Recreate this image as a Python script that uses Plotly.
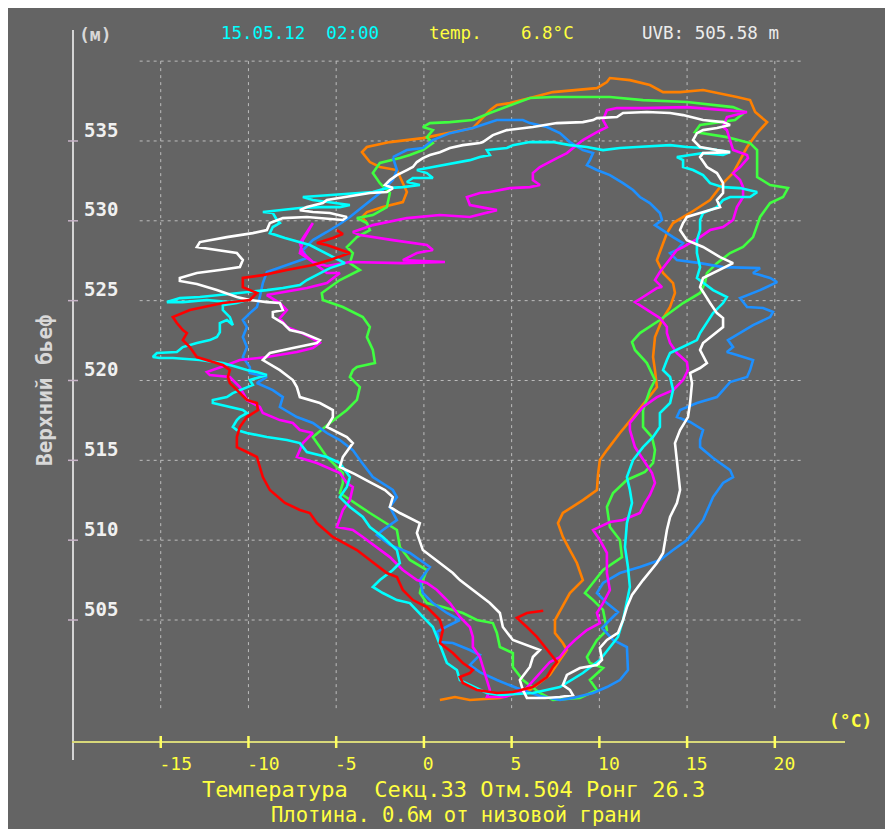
import plotly.graph_objects as go

# ---------------- data (temperature °C, upstream level m) ----------------
orange_T = [0.91,1.77,2.62,3.59,4.33,6.04,7.18,7.75,8.15,7.92,7.47,7.47,7.87,8.32,9.06,8.72,8.32,7.92,7.64,7.92,9.06,9.86,9.92,10.03,10.43,11.17,11.92,12.71,13.28,13.17,13.06,13.17,13.57,14.03,14.31,14.20,13.63,13.28,13.85,14.20,15.17,16.31,17.05,17.62,18.02,18.42,18.99,19.56,18.88,18.59,17.84,15.91,14.60,13.63,12.88,11.74,10.60,10.43,9.86,7.35,6.04,4.90,4.16,3.76,2.79,0.91,-0.06,-1.94,-3.25,-3.53,-3.08,-2.51,-1.54,-0.97,-1.20,-2.34,-3.25,-3.53,-3.25]
orange_H = [499.99,500.18,499.99,500.05,500.12,500.62,501.56,502.50,503.12,503.56,504.19,505.00,505.81,506.69,507.50,508.57,509.38,510.20,511.07,511.70,512.51,513.14,514.08,515.02,515.64,516.71,517.71,518.78,519.59,520.65,521.47,522.72,523.79,524.60,525.48,526.10,526.73,527.54,529.23,529.86,530.49,531.30,532.36,532.99,533.80,534.62,535.49,536.18,536.81,537.56,537.75,538.19,538.06,538.06,538.50,538.81,538.94,538.69,538.31,538.06,537.69,537.37,537.25,536.93,535.81,535.37,535.18,534.93,534.62,534.30,533.68,533.37,533.18,531.80,531.17,530.86,530.55,530.24,529.86]

green_T = [2.79,3.76,6.04,7.35,10.60,12.49,14.99,17.62,18.30,17.73,15.74,15.45,17.27,18.59,18.99,18.99,19.73,20.75,20.47,19.73,19.16,18.76,18.19,17.45,16.70,16.13,16.02,15.74,14.77,13.45,12.31,11.86,12.03,12.71,13.17,12.88,12.49,12.49,13.00,13.17,13.06,12.60,11.57,10.78,10.43,10.60,11.17,11.29,10.21,9.18,9.64,10.21,10.43,9.86,9.29,9.46,10.21,9.46,9.86,8.89,7.35,6.61,5.64,5.07,5.07,4.33,4.16,3.93,3.02,2.22,1.08,0.17,-0.23,-0.06,0.17,-0.80,-1.37,-1.54,-3.08,-4.22,-4.79,-4.62,-4.62,-5.53,-6.33,-5.36,-4.39,-3.82,-3.65,-4.22,-4.05,-3.82,-2.79,-2.91,-3.25,-3.08,-3.48,-4.62,-5.76,-5.82,-4.79,-3.65,-4.22,-4.05,-4.39,-3.82,-3.08,-3.25,-3.82,-2.91,-2.11,-1.94,-2.51,-2.91,-2.51,-1.37,-0.80,-0.06,0.51,0.17,0.51,-0.06,0.34,1.48,2.79]
green_H = [536.31,536.75,537.69,537.75,537.75,537.56,537.44,537.12,536.81,536.31,536.00,535.56,535.24,534.87,534.43,532.74,532.24,532.05,531.49,531.11,530.24,528.98,528.36,527.98,527.35,526.73,526.10,525.48,524.85,523.79,522.97,522.41,521.91,521.09,520.03,519.40,518.15,517.09,516.46,515.64,514.83,514.27,513.77,512.95,512.08,510.82,510.01,508.94,508.13,506.69,506.25,505.63,504.37,503.75,502.68,502.31,501.99,501.24,500.62,500.12,499.99,500.43,501.24,502.06,502.93,503.31,504.19,504.81,505.00,505.44,505.81,506.06,506.69,507.50,508.13,508.76,509.57,510.64,511.70,512.51,512.95,513.58,514.20,515.21,516.46,517.34,518.15,518.78,519.59,520.22,520.65,520.84,521.09,521.91,522.72,523.35,523.97,524.60,525.04,525.48,526.29,526.92,527.35,527.98,528.36,528.98,529.42,529.86,530.17,530.36,530.86,531.74,532.36,532.99,533.62,533.93,534.12,534.43,534.87,535.24,535.68,535.87,536.12,536.18,536.31]

blue_T = [-1.77,-0.97,-0.06,0.51,1.48,2.79,4.16,5.64,6.04,7.01,7.75,8.32,9.06,9.64,9.46,9.29,9.86,10.60,11.35,11.92,12.31,12.88,13.45,13.57,13.17,13.57,14.20,14.77,14.42,14.03,14.42,15.74,17.05,19.16,18.76,19.73,20.13,19.16,18.02,18.42,19.33,19.90,19.73,18.76,17.84,17.33,17.62,17.27,17.84,18.76,18.59,18.42,17.45,17.05,16.70,15.56,14.60,14.42,15.17,15.91,15.74,15.74,16.48,17.45,17.62,17.05,16.48,15.91,14.99,14.20,13.45,12.31,11.17,10.21,9.86,10.43,11.06,10.60,10.15,10.78,11.57,11.63,11.17,10.43,9.64,8.49,7.75,6.61,5.30,4.16,3.19,2.62,3.19,2.62,1.65,0.91,0.74,1.48,2.05,1.31,0.51,-0.06,-0.23,0.34,-0.80,-1.94,-2.68,-2.34,-1.54,-1.94,-1.54,-1.77,-2.91,-3.65,-4.05,-4.79,-5.53,-6.33,-7.24,-8.21,-8.04,-8.61,-9.52,-8.95,-9.92,-9.92,-10.32,-10.09,-10.32,-10.09,-10.32,-9.92,-9.52,-9.35,-9.18,-8.95,-7.81,-6.67,-6.90,-6.33,-5.53,-4.79,-4.22,-3.36,-2.51,-1.77,-1.54,-1.77]
blue_H = [533.99,534.43,534.56,535.06,535.49,535.81,536.31,536.31,536.12,535.87,535.49,534.93,534.43,534.24,533.80,533.49,533.18,532.86,532.36,531.93,531.49,531.11,530.49,530.05,529.73,529.42,528.98,528.61,528.17,527.98,527.54,527.35,527.10,527.04,526.73,526.42,526.16,525.66,525.16,524.60,524.54,524.29,523.97,523.47,522.85,522.53,522.09,521.78,521.59,521.28,520.65,520.22,519.90,519.40,518.96,518.59,518.15,517.71,517.40,516.90,516.27,515.83,515.14,514.39,513.95,513.58,512.70,511.26,510.01,509.38,508.76,508.32,507.94,507.32,506.69,506.06,505.50,505.00,504.50,503.75,503.31,501.87,501.24,500.80,500.43,500.12,499.99,500.24,500.74,501.24,501.74,502.18,502.81,503.12,503.56,503.62,504.25,504.69,505.00,505.44,506.06,506.69,507.50,508.32,509.20,509.70,510.32,510.64,511.26,512.08,512.70,513.14,513.95,515.02,515.64,516.27,516.71,517.34,517.71,518.34,518.96,519.40,519.84,520.22,520.47,520.84,521.47,522.09,522.72,523.35,523.79,524.22,524.60,525.23,526.10,526.79,527.23,527.67,528.17,528.79,529.30,529.80,530.24,530.99,531.74,532.55,533.18,533.99]

magenta_T = [18.42,17.05,15.91,14.99,12.49,11.00,10.43,10.21,10.43,9.86,9.06,8.72,8.15,7.58,6.61,6.21,6.21,6.61,6.04,4.90,3.76,3.19,2.45,2.62,4.16,2.62,0.91,-0.97,-2.91,-4.05,-3.65,-1.77,0.17,0.51,-0.40,-1.20,1.20,-1.20,-4.22,-5.53,-6.33,-6.90,-7.07,-6.33,-6.90,-7.07,-6.33,-5.53,-4.79,-5.53,-6.67,-8.95,-8.21,-7.81,-8.21,-7.81,-7.07,-6.50,-5.93,-6.33,-7.24,-8.95,-10.49,-11.23,-12.37,-12.20,-11.06,-10.49,-10.09,-9.35,-9.18,-8.21,-7.47,-7.07,-6.33,-6.90,-7.24,-6.10,-4.79,-4.39,-4.05,-4.22,-4.62,-4.96,-4.05,-3.48,-2.68,-1.94,-1.20,-0.40,0.17,0.74,1.48,2.05,2.62,2.79,2.79,3.19,3.36,3.59,3.76,3.59,4.62,5.76,6.61,7.18,7.75,8.15,8.61,9.29,10.03,9.86,10.21,10.60,10.43,10.43,10.03,9.64,10.60,11.35,12.31,12.60,12.88,13.17,13.00,12.49,12.03,11.74,11.74,12.49,13.28,14.20,14.77,15.05,14.99,14.42,14.03,13.85,13.85,13.45,12.49,12.03,12.49,13.28,13.57,13.17,13.45,13.85,14.42,14.77,15.74,16.31,17.05,17.62,17.84,18.19,18.19,18.02,17.62,18.02,18.47,18.42,17.62,17.27,17.05,17.27,18.42]
magenta_H = [536.81,536.93,537.06,537.12,537.06,537.06,536.93,536.31,535.87,535.56,535.06,534.74,534.24,533.93,533.37,532.99,532.55,532.24,532.11,532.05,531.80,531.74,531.49,530.99,530.67,530.24,530.36,530.17,529.73,529.30,529.11,528.79,528.48,528.17,527.98,527.54,527.42,527.35,527.42,527.17,527.42,527.98,528.61,529.86,528.79,527.98,527.42,526.73,526.73,526.10,525.79,525.35,524.85,524.41,523.91,523.35,523.03,522.72,522.35,522.03,521.78,521.47,521.28,520.97,520.53,520.34,520.22,519.59,518.78,518.34,517.96,517.52,517.34,516.90,516.71,516.08,515.21,514.83,514.20,513.58,513.33,512.51,511.89,510.82,510.64,510.20,509.57,508.94,508.13,507.50,507.32,506.88,506.06,505.19,504.56,503.94,503.31,502.68,502.06,501.24,500.62,500.18,500.18,500.62,501.68,502.37,502.68,503.25,503.75,504.37,504.81,505.44,506.06,506.88,507.94,509.20,510.01,510.64,511.14,511.26,511.70,512.33,512.83,513.58,514.20,515.02,515.83,516.90,517.34,518.34,518.96,519.40,520.03,520.65,521.16,521.72,522.35,522.97,523.35,523.91,524.60,524.91,525.23,525.79,525.85,526.29,526.79,527.35,528.17,528.36,528.98,529.42,529.61,530.05,530.86,531.49,532.11,532.55,532.99,533.37,533.93,534.12,534.43,535.68,535.87,536.50,536.81]

cyan_T = [2.62,3.19,3.76,3.59,4.73,5.07,6.04,7.35,8.32,9.29,10.21,11.17,12.14,14.03,14.99,15.91,16.70,17.45,17.05,15.91,15.17,14.42,14.77,14.77,15.34,15.91,16.31,17.05,18.02,18.99,18.59,17.45,17.05,16.70,15.91,15.74,15.74,15.56,15.56,15.74,15.56,16.48,17.27,17.05,16.48,16.13,15.74,15.56,14.77,14.03,13.85,13.63,14.03,14.20,14.03,13.45,13.45,13.06,12.49,11.92,11.57,11.74,11.86,11.57,11.46,11.63,11.74,11.57,11.35,11.06,10.60,10.03,9.06,8.15,7.75,6.21,4.33,3.59,2.05,1.88,1.31,0.74,0.51,-0.06,-0.80,-1.54,-2.34,-2.91,-2.51,-1.77,-1.37,-1.54,-2.34,-3.08,-3.48,-4.22,-4.79,-4.39,-4.22,-4.79,-5.53,-6.67,-7.07,-7.81,-8.95,-10.09,-10.66,-10.89,-10.66,-10.49,-10.09,-10.32,-11.06,-12.03,-12.03,-11.23,-10.89,-10.49,-10.09,-9.75,-9.92,-9.35,-8.95,-9.52,-10.09,-10.66,-11.46,-12.77,-14.31,-15.05,-15.45,-15.22,-14.08,-13.74,-12.94,-12.20,-11.80,-11.63,-11.63,-11.23,-10.89,-11.06,-11.46,-11.46,-10.66,-10.09,-11.06,-12.37,-13.74,-14.65,-13.91,-12.77,-11.63,-10.66,-9.92,-8.95,-8.04,-7.07,-6.67,-5.36,-4.50,-6.50,-7.92,-8.78,-8.61,-8.21,-8.38,-8.61,-9.18,-7.07,-5.93,-4.79,-4.22,-5.53,-6.33,-6.90,-5.53,-4.05,-2.91,-2.11,-1.20,-0.23,-0.97,-0.63,0.51,0.17,-0.40,0.51,1.65,2.62]
cyan_H = [533.80,533.99,534.12,534.43,534.56,534.74,534.93,534.93,534.74,534.62,534.43,534.56,534.62,534.74,534.62,534.56,534.43,534.30,534.12,534.24,534.12,533.99,533.80,533.37,533.18,532.86,532.36,532.11,532.05,531.80,531.49,531.49,531.30,530.86,530.49,530.05,529.42,528.79,527.98,527.10,526.42,525.66,525.23,524.85,524.22,523.60,522.97,522.53,522.09,521.72,521.28,520.65,520.22,519.40,518.59,517.96,517.09,516.46,515.83,515.02,513.95,513.14,512.33,511.07,509.57,508.32,507.07,506.06,505.00,503.94,503.31,502.50,501.68,501.06,500.80,500.43,500.30,500.43,501.24,501.87,502.31,503.94,504.56,505.19,506.06,506.25,506.69,507.07,507.50,508.13,508.57,509.38,510.20,510.82,511.45,512.08,512.70,513.33,513.95,514.83,515.21,515.52,516.08,516.27,516.46,516.71,516.90,517.09,517.52,517.71,517.96,518.15,518.34,518.59,518.78,518.96,519.21,519.40,519.59,519.72,520.03,520.22,520.34,520.53,520.65,520.84,521.09,521.28,521.41,521.41,521.47,521.72,521.78,522.09,522.35,522.53,522.72,523.03,523.60,523.79,523.47,523.97,524.41,524.72,524.85,525.04,524.91,525.04,524.91,524.91,525.16,525.23,525.35,525.48,525.54,525.66,525.79,525.98,526.29,527.04,527.35,528.48,528.92,529.23,529.61,529.86,530.05,530.49,530.55,530.80,530.86,530.86,530.99,531.17,531.30,531.49,531.61,531.74,531.80,532.05,532.11,532.24,532.43,532.68,532.68,532.99,533.18,533.37,533.62,533.80]

white_T = [3.19,2.22,1.48,0.91,0.34,-0.06,-0.40,-0.63,-0.97,-1.54,-1.94,-2.22,-1.77,-2.11,-3.08,-4.39,-5.53,-5.76,-6.67,-7.07,-6.33,-5.36,-4.39,-4.62,-5.76,-6.67,-8.04,-8.78,-8.95,-9.75,-11.23,-12.77,-12.94,-11.80,-10.66,-10.32,-10.49,-11.63,-12.94,-13.91,-13.91,-12.94,-11.80,-10.66,-9.92,-8.95,-8.21,-8.04,-8.61,-8.61,-8.04,-7.64,-6.90,-5.93,-6.10,-7.47,-8.78,-9.18,-8.21,-7.47,-7.24,-7.07,-5.93,-5.19,-5.19,-5.53,-5.19,-4.39,-4.05,-4.62,-4.79,-3.93,-3.08,-2.22,-1.77,-1.94,-1.37,-0.63,-0.23,-0.40,-0.06,0.91,1.65,2.05,2.79,3.76,4.33,4.50,5.07,6.21,6.61,6.21,6.04,5.47,5.64,5.87,6.90,7.75,8.49,8.32,7.92,8.15,8.89,9.86,10.15,10.03,10.43,11.06,11.35,11.57,11.86,12.49,13.28,13.63,13.85,14.03,14.42,14.60,14.42,14.31,14.60,15.05,15.17,15.28,15.17,15.74,16.13,15.74,15.91,16.31,17.05,17.05,16.70,16.31,15.74,15.91,16.59,17.62,16.88,15.91,14.99,14.60,14.77,14.99,16.31,16.88,16.70,17.05,17.05,16.70,16.13,15.74,15.91,17.45,16.70,15.74,15.34,15.56,15.91,16.70,17.45,17.05,15.91,14.77,14.03,12.71,11.35,11.00,9.86,9.64,9.06,7.58,6.21,4.73,3.93,3.36,3.19]
white_H = [534.87,534.74,534.56,534.30,534.12,533.93,533.68,533.37,533.18,532.86,532.55,532.24,532.05,531.80,531.74,531.49,531.30,531.11,530.86,530.67,530.55,530.49,530.24,530.05,530.17,530.24,530.17,529.86,529.42,529.23,528.98,528.67,528.36,528.17,527.98,527.54,527.10,526.92,526.73,526.42,526.23,526.04,525.66,525.23,525.04,524.91,524.85,524.41,524.29,523.97,523.60,523.16,522.97,522.53,522.35,522.03,521.72,521.28,520.65,520.03,519.59,518.96,518.59,518.15,517.71,517.09,516.90,516.46,516.08,515.21,514.58,514.14,513.64,513.14,512.70,512.08,511.70,511.26,511.07,510.45,509.38,508.57,507.94,507.50,506.88,506.06,505.44,504.56,503.75,503.31,503.12,502.68,502.06,501.24,500.62,500.12,500.12,500.18,500.30,500.62,500.93,501.56,501.99,502.18,502.50,503.25,503.75,504.19,505.00,505.81,506.57,507.50,508.57,509.20,510.64,511.45,512.33,513.14,514.83,516.08,516.90,517.71,518.59,519.84,520.47,520.78,521.09,521.91,522.35,522.72,523.35,523.91,524.22,524.85,525.85,526.42,526.79,527.35,527.73,528.36,528.79,529.42,529.86,530.24,530.67,530.86,531.30,531.74,532.36,532.99,533.37,533.99,534.24,534.30,534.43,534.62,535.06,535.49,535.68,535.81,536.00,536.18,536.31,536.62,536.75,536.81,536.75,536.50,536.43,536.31,536.18,536.12,535.87,535.68,535.37,534.93,534.87]

red_T = [-4.96,-4.62,-5.19,-6.10,-5.53,-4.39,-4.22,-5.36,-6.33,-7.81,-9.18,-10.32,-10.32,-9.52,-9.92,-11.46,-13.34,-14.31,-14.08,-13.74,-13.51,-13.74,-13.34,-12.94,-12.37,-11.46,-11.06,-11.17,-11.06,-10.49,-10.09,-9.52,-9.46,-10.09,-10.49,-10.66,-10.66,-10.09,-9.52,-9.35,-9.18,-8.78,-7.92,-7.07,-6.50,-6.10,-5.19,-3.82,-3.08,-2.11,-1.54,-1.20,-0.63,0.17,0.51,0.91,1.08,0.91,1.65,2.22,2.79,2.62,2.05,2.22,3.02,4.16,5.07,6.21,7.01,7.35,7.58,7.01,6.44,5.87,5.30,5.87,6.8]
red_H = [529.42,529.17,528.92,528.61,528.48,528.04,527.98,527.54,527.23,526.92,526.60,526.42,525.85,525.48,525.04,524.85,524.41,523.97,523.60,523.16,522.97,522.53,522.09,521.47,521.28,520.97,520.65,520.22,519.84,519.21,518.78,518.59,518.15,517.71,517.09,516.46,515.83,515.52,515.21,514.58,513.95,513.14,512.33,511.89,511.70,511.07,510.20,509.38,508.76,507.94,507.69,506.88,506.25,505.81,505.44,505.00,504.37,503.56,502.93,502.31,501.87,501.68,501.43,501.06,500.62,500.43,500.49,500.80,501.43,502.06,502.37,503.12,503.94,504.56,505.13,505.44,505.58]

series = [
    ("orange", orange_T, orange_H, "#ff8000"),
    ("green", green_T, green_H, "#40ff40"),
    ("blue", blue_T, blue_H, "#1e90ff"),
    ("magenta", magenta_T, magenta_H, "#ff00ff"),
    ("cyan", cyan_T, cyan_H, "#00ffff"),
    ("white", white_T, white_H, "#ffffff"),
    ("red", red_T, red_H, "#ff0000"),
]

x_ticks = [-15, -10, -5, 0, 5, 10, 15, 20]
x_ticktext = ["-15", "-10", "-5\u00a0", "0\u00a0\u00a0", "5\u00a0\u00a0", "10\u00a0", "15\u00a0", "20\u00a0"]
y_ticks = [505, 510, 515, 520, 525, 530, 535]
y_ticktext = ["505", "510", "515", "520", "525", "530", "535"]
y_grid = [505, 510, 515, 520, 525, 530, 535, 540]

date_text = "15.05.12\u00a0\u00a002:00"
temp_label = "temp."
temp_value = "6.8°C"
uvb_text = "UVB:\u00a0505.58\u00a0m"
title1 = "Температура\u00a0\u00a0Секц.33 Отм.504 Ронг 26.3"
title2 = "Плотина. 0.6м от низовой грани"
y_title = "Верхний бьеф"

# ---------------- layout geometry ----------------
# the page has an 8px body margin, screen coords = figure coords + 8
OFF = 8
W, H = 880, 822
L, R, T, B = 73, 845, 30, 742          # plot area in screen pixels
X_RANGE = [-20.0, 24.0]
Y_RANGE = [497.36, 541.95]
BG = "#646464"
FONT = "DejaVu Sans Mono"

def px(xp):
    return (xp - L) / (R - L)

def py(yp):
    return (B - yp) / (B - T)

fig = go.Figure()
for name, xs, ys, col in series:
    fig.add_trace(go.Scatter(x=xs, y=ys, mode="lines", name=name,
                             line=dict(color=col, width=2.6), hoverinfo="skip"))

shapes = []
for gy in y_grid:
    shapes.append(dict(type="line", xref="x", yref="y", layer="below",
                       x0=-16.2, x1=21.7, y0=gy, y1=gy,
                       line=dict(color="#bdbdbd", width=1, dash="3px,4px")))
for gx in x_ticks:
    shapes.append(dict(type="line", xref="x", yref="y", layer="below",
                       x0=gx, x1=gx, y0=540, y1=499.45,
                       line=dict(color="#bdbdbd", width=1, dash="3px,4px")))
# y axis line + ticks
shapes.append(dict(type="line", xref="paper", yref="paper", x0=px(73), x1=px(73),
                   y0=py(760), y1=py(30), line=dict(color="#d4d4d4", width=2)))
for ty in y_ticks:
    shapes.append(dict(type="line", xref="paper", yref="y", x0=px(68), x1=px(78),
                       y0=ty, y1=ty, line=dict(color="#c8b4c8", width=1.5)))
# x axis line + ticks
shapes.append(dict(type="line", xref="paper", yref="paper", x0=px(72), x1=px(845),
                   y0=py(742), y1=py(742), line=dict(color="#d8d87a", width=2)))
for tx in x_ticks:
    shapes.append(dict(type="line", xref="x", yref="paper", x0=tx, x1=tx,
                       y0=py(748), y1=py(736), line=dict(color="#ffff60", width=2.5)))

ann = []
def add_text(text, xpix, ypix, color, size, angle=0, bold=False):
    ann.append(dict(text=("<b>%s</b>" % text) if bold else text,
                    xref="paper", yref="paper", x=px(xpix), y=py(ypix),
                    xanchor="center", yanchor="middle", showarrow=False,
                    textangle=angle, font=dict(family=FONT, size=size, color=color)))

add_text("(м)", 95, 34, "#d8d8d8", 18, bold=True)
add_text(date_text, 300, 33, "#00ffff", 17.5)
add_text(temp_label, 455, 33, "#ffff40", 17.5)
add_text(temp_value, 547, 33, "#ffff40", 17.5)
add_text(uvb_text, 710, 33, "#ececec", 17.5)
add_text("(°C)", 850, 720, "#ffff40", 18, bold=True)
add_text(title1, 453, 789, "#ffff40", 22)
add_text(title2, 456, 815, "#ffff40", 20.5)
add_text(y_title, 45, 390, "#d8d8d8", 21, angle=-90, bold=True)

fig.update_layout(
    width=W, height=H,
    margin=dict(l=L - OFF, r=W - (R - OFF), t=T - OFF, b=H - (B - OFF), pad=0),
    paper_bgcolor=BG, plot_bgcolor=BG,
    showlegend=False,
    shapes=shapes, annotations=ann,
    xaxis=dict(range=X_RANGE, showgrid=False, zeroline=False, showline=False,
               tickmode="array", tickvals=x_ticks, ticktext=x_ticktext, ticks="",
               ticklabelshift=15, ticklabelstandoff=9,
               tickfont=dict(family=FONT, size=18, color="#ffff40")),
    yaxis=dict(range=Y_RANGE, showgrid=False, zeroline=False, showline=False,
               tickmode="array", tickvals=y_ticks, ticktext=y_ticktext, ticks="",
               ticklabelposition="inside", ticklabelshift=-11, ticklabelstandoff=8,
               tickfont=dict(family=FONT, size=19, color="#f0f0f0", weight="bold")),
)

fig.write_html("out.html")
